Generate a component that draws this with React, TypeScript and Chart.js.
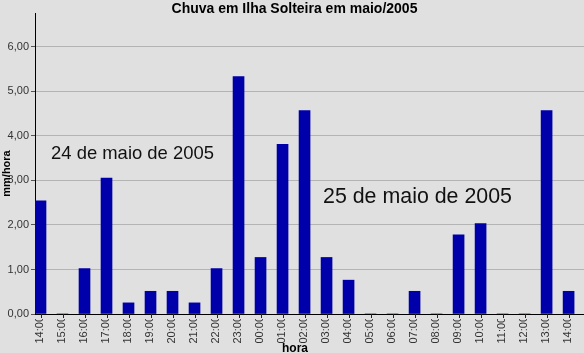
import React, { useEffect, useRef } from "react";
import { Chart, registerables } from "chart.js";

Chart.register(...registerables);

const hours: string[] = [
  "14:00", "15:00", "16:00", "17:00", "18:00", "19:00", "20:00", "21:00", "22:00", "23:00",
  "00:00", "01:00", "02:00", "03:00", "04:00", "05:00", "06:00", "07:00", "08:00", "09:00",
  "10:00", "11:00", "12:00", "13:00", "14:00",
];
const rain: number[] = [
  2.54, 0, 1.02, 3.05, 0.25, 0.51, 0.51, 0.25, 1.02, 5.33,
  1.27, 3.81, 4.57, 1.27, 0.76, 0, 0, 0.51, 0, 1.78,
  2.03, 0, 0, 4.57, 0.51,
];
const titleText = "Chuva em Ilha Solteira em maio/2005";
const xTitle = "hora";
const yTitle = "mm/hora";
const day1Label = "24 de maio de 2005";
const day2Label = "25 de maio de 2005";

const FONT = "'Liberation Sans', Arial, sans-serif";

const decor = {
  id: "decor",
  beforeDraw(chart: any) {
    const { ctx, width, height } = chart;
    ctx.save();
    ctx.fillStyle = "#E0E0E0";
    ctx.fillRect(0, 0, width, height);
    ctx.restore();
  },
  afterDraw(chart: any) {
    const { ctx, chartArea } = chart;
    const xs = chart.scales.x;
    ctx.save();
    // x tick marks
    ctx.strokeStyle = "#222";
    ctx.lineWidth = 1;
    hours.forEach((_, i) => {
      const px = Math.round(xs.getPixelForValue(i)) + 0.5;
      ctx.beginPath();
      ctx.moveTo(px, chartArea.bottom);
      ctx.lineTo(px, chartArea.bottom + 4);
      ctx.stroke();
    });
    // x tick labels (rotated, clipped near axis)
    ctx.save();
    ctx.beginPath();
    ctx.rect(0, chartArea.bottom + 5, chart.width, chart.height);
    ctx.clip();
    ctx.fillStyle = "#333";
    ctx.font = `11px ${FONT}`;
    ctx.textAlign = "left";
    ctx.textBaseline = "middle";
    hours.forEach((h, i) => {
      const px = xs.getPixelForValue(i) - 1;
      ctx.save();
      ctx.translate(px, 343.5);
      ctx.rotate(-Math.PI / 2);
      ctx.fillText(h, 0, 0);
      ctx.restore();
    });
    ctx.restore();

    // title
    ctx.fillStyle = "#000";
    ctx.font = `bold 14px ${FONT}`;
    ctx.textAlign = "center";
    ctx.textBaseline = "alphabetic";
    ctx.fillText(titleText, 294.5, 13);

    // x title
    ctx.font = `bold 12px ${FONT}`;
    ctx.fillText(xTitle, 295, 352);

    // y title
    ctx.save();
    ctx.translate(7, 173.5);
    ctx.rotate(-Math.PI / 2);
    ctx.font = `bold 11px ${FONT}`;
    ctx.textBaseline = "middle";
    ctx.fillText(yTitle, 0, 0);
    ctx.restore();

    // day annotations
    const drawStretched = (t: string, x: number, y: number, size: number, w: number) => {
      ctx.save();
      ctx.font = `${size}px ${FONT}`;
      ctx.textAlign = "left";
      ctx.textBaseline = "alphabetic";
      ctx.fillStyle = "#111";
      const m = ctx.measureText(t).width;
      ctx.translate(x, y);
      ctx.scale(w / m, 1);
      ctx.fillText(t, 0, 0);
      ctx.restore();
    };
    drawStretched(day1Label, 51, 159, 19, 163);
    drawStretched(day2Label, 323, 203, 22, 189);
    ctx.restore();
  },
};

export default function App() {
  const ref = useRef<HTMLCanvasElement | null>(null);
  useEffect(() => {
    document.body.style.margin = "0";
    if (!ref.current) return;
    const chart = new Chart(ref.current, {
      type: "bar",
      data: {
        datasets: [
          {
            data: rain.map((v, i) => ({ x: i, y: v })),
            backgroundColor: "#0000AA",
            borderWidth: 0,
            barThickness: 11,
          },
        ],
      },
      options: {
        animation: false,
        responsive: true,
        maintainAspectRatio: false,
        layout: { padding: { top: 13, right: 0, left: 0, bottom: 0 } },
        plugins: { legend: { display: false }, tooltip: { enabled: false }, title: { display: false } },
        scales: {
          x: {
            type: "linear",
            offset: false,
            min: -0.25,
            max: 24.7,
            grid: { display: false, offset: false },
            border: { display: true, color: "#000", width: 1 },
            ticks: { display: false, stepSize: 1 },
            afterFit: (s: any) => {
              s.height = 39;
            },
          },
          y: {
            min: 0,
            max: 6.76,
            afterBuildTicks: (s: any) => {
              s.ticks = s.ticks.filter((t: any) => Number.isInteger(Math.round(t.value * 1000) / 1000));
            },
            ticks: {
              stepSize: 1,
              padding: 2,
              color: "#333",
              font: { size: 11, family: FONT },
              callback: (v: any) => Number(v).toFixed(2).replace(".", ","),
            },
            grid: { color: "#B4B4B4", tickLength: 4, tickColor: "#555" },
            border: { display: true, color: "#000", width: 1 },
            afterFit: (s: any) => {
              s.width = 35;
            },
          },
        },
      } as any,
      plugins: [decor],
    });
    return () => chart.destroy();
  }, []);
  return (
    <div style={{ width: 584, height: 353, position: "relative" }}>
      <canvas ref={ref} />
    </div>
  );
}
